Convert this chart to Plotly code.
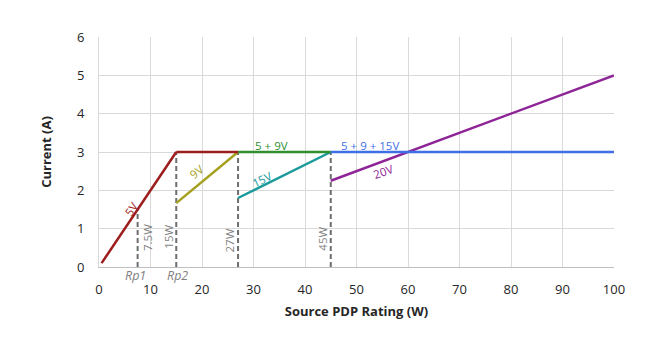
import plotly.graph_objects as go

# Source PDP rating (W) vs. current (A) per voltage rail
w_5v = [0.5, 15, 27]
a_5v = [0.1, 3, 3]
w_9v = [15, 27]
a_9v = [15 / 9, 3]
w_59 = [27, 45]
a_59 = [3, 3]
w_15v = [27, 45]
a_15v = [1.8, 3]
w_5915 = [45, 100]
a_5915 = [3, 3]
w_20v = [45, 100]
a_20v = [2.25, 5]

# Rating break points (dashed markers)
break_w = [7.5, 15, 27, 45]
break_a = [1.5, 3, 3, 3]
break_labels = ["7.5W", "15W", "27W", "45W"]
break_label_x = [9.3, 13.5, 25.3, 43.5]
break_label_y = [0.78, 0.78, 0.7, 0.74]

rp_labels = ["Rp1", "Rp2"]
rp_x = [7.0, 15.2]

x_ticks = [0, 10, 20, 30, 40, 50, 60, 70, 80, 90, 100]
y_ticks = [0, 1, 2, 3, 4, 5, 6]

C_5V = "#9C1D1D"
C_9V = "#A5A01E"
C_59 = "#2F8F2F"
C_15V = "#1A9A9A"
C_5915 = "#3F6FE6"
C_20V = "#8E2596"
C_GREY = "#7F7F7F"

fig = go.Figure()

for wx, ay in zip(break_w, break_a):
    fig.add_trace(go.Scatter(x=[wx, wx], y=[0, ay], mode="lines",
                             line=dict(color="#6E6E6E", width=2, dash="5px,3px"),
                             showlegend=False, hoverinfo="skip"))

series = [
    (w_9v, a_9v, C_9V),
    (w_15v, a_15v, C_15V),
    (w_20v, a_20v, C_20V),
    (w_5915, a_5915, C_5915),
    (w_59, a_59, C_59),
    (w_5v[:2], a_5v[:2], C_5V),
    (w_5v[1:], a_5v[1:], C_5V),
]
for xs, ys, col in series:
    fig.add_trace(go.Scatter(x=xs, y=ys, mode="lines",
                             line=dict(color=col, width=2.5),
                             showlegend=False, hoverinfo="skip"))

font_name = "Open Sans"

line_labels = [
    ("5V", 6.3, 1.53, -56, C_5V),
    ("9V", 19.0, 2.48, -39, C_9V),
    ("15V", 31.6, 2.28, -26, C_15V),
    ("20V", 55.2, 2.5, -20, C_20V),
    ("5 + 9V", 33.5, 3.17, 0, C_59),
    ("5 + 9 + 15V", 52.6, 3.17, 0, C_5915),
]
for txt, x, y, ang, col in line_labels:
    fig.add_annotation(x=x, y=y, text=txt, showarrow=False, textangle=ang,
                       font=dict(family=font_name, size=11.5, color=col))

for txt, x, y in zip(break_labels, break_label_x, break_label_y):
    fig.add_annotation(x=x, y=y, text=txt, showarrow=False, textangle=-90,
                       font=dict(family=font_name, size=11.5, color=C_GREY))

# Rp markers sit just below the x axis line
for txt, x in zip(rp_labels, rp_x):
    fig.add_annotation(x=x, xref="x", y=-0.036, yref="paper", yanchor="middle",
                       text="<i>" + txt + "</i>", showarrow=False,
                       font=dict(family=font_name, size=12.5, color=C_GREY))

fig.update_xaxes(range=[0, 100], tickvals=x_ticks, showgrid=True,
                 gridcolor="#D9D9D9", gridwidth=1, zeroline=False,
                 showline=True, linecolor="#BFBFBF", linewidth=1,
                 ticks="outside", ticklen=10, tickcolor="rgba(0,0,0,0)",
                 tickfont=dict(family=font_name, size=13, color="#262626"),
                 title=dict(text="<b>Source PDP Rating (W)</b>", standoff=10,
                            font=dict(family=font_name, size=13, color="#262626")))
fig.update_yaxes(range=[0, 6], tickvals=y_ticks, showgrid=True,
                 gridcolor="#D9D9D9", gridwidth=1, zeroline=False,
                 showline=True, linecolor="#D9D9D9", linewidth=1,
                 ticks="outside", ticklen=11, tickcolor="rgba(0,0,0,0)",
                 tickfont=dict(family=font_name, size=13, color="#262626"),
                 title=dict(text="<b>Current (A)</b>", standoff=22,
                            font=dict(family=font_name, size=13, color="#262626")))

fig.update_layout(width=656, height=338,
                  margin=dict(l=99, r=42, t=37, b=71),
                  plot_bgcolor="white", paper_bgcolor="white")

fig.write_html("out.html")
